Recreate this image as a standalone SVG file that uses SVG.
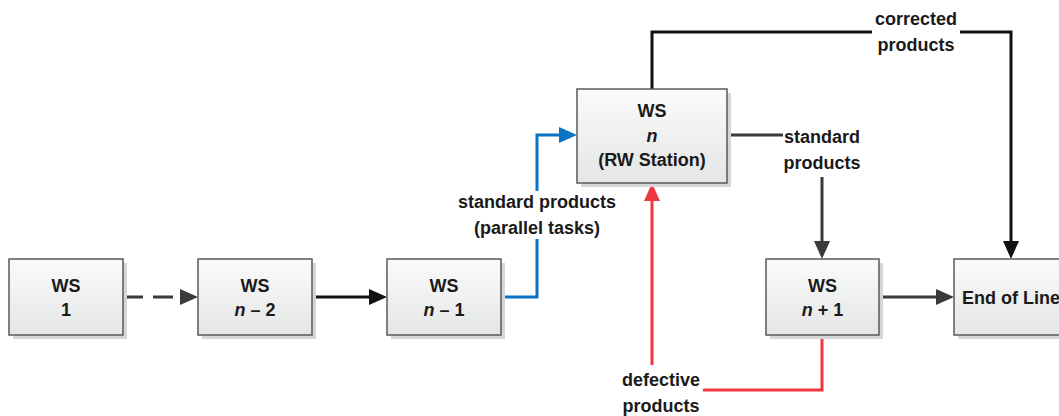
<svg xmlns="http://www.w3.org/2000/svg" width="1059" height="416" viewBox="0 0 1059 416">
  <style>
    .box { stroke: #595959; stroke-width: 1.5; fill: url(#boxFill); }
    .shadow { fill: #d6d6d6; }
    .t { font-family: "Liberation Sans", Arial, sans-serif; font-weight: bold; font-size: 18px; fill: #1a1a1a; text-anchor: middle; }
    .i { font-style: italic; }
    .line { fill: none; stroke-width: 3; }
    .dark { stroke: #3a3a3a; }
    .black { stroke: #111111; }
    .blue { stroke: #0b74c4; }
    .red { stroke: #f0363f; }
    .bg { fill: #ffffff; }
  </style>
  <defs>
    <linearGradient id="boxFill" x1="0" y1="0" x2="0" y2="1">
      <stop offset="0" stop-color="#fbfbfb"/>
      <stop offset="1" stop-color="#e4e5e5"/>
    </linearGradient>
    <marker id="arrDark" viewBox="0 0 18 16" refX="2" refY="8" markerWidth="18" markerHeight="16" markerUnits="userSpaceOnUse" orient="auto">
      <path d="M0,0 L18,8 L0,16 z" fill="#3a3a3a"/>
    </marker>
    <marker id="arrBlack" viewBox="0 0 18 16" refX="2" refY="8" markerWidth="18" markerHeight="16" markerUnits="userSpaceOnUse" orient="auto">
      <path d="M0,0 L18,8 L0,16 z" fill="#111111"/>
    </marker>
    <marker id="arrBlue" viewBox="0 0 18 16" refX="2" refY="8" markerWidth="18" markerHeight="16" markerUnits="userSpaceOnUse" orient="auto">
      <path d="M0,0 L18,8 L0,16 z" fill="#0b74c4"/>
    </marker>
    <marker id="arrRed" viewBox="0 0 18 16" refX="2" refY="8" markerWidth="18" markerHeight="16" markerUnits="userSpaceOnUse" orient="auto">
      <path d="M0,0 L18,8 L0,16 z" fill="#f0363f"/>
    </marker>
  </defs>
  <rect width="1059" height="416" fill="#ffffff"/>

  <!-- connectors -->
  <g id="connectors">
    <path class="line dark" d="M123,297 H182" stroke-dasharray="20 10" marker-end="url(#arrDark)"/>
    <path class="line black" d="M312,297 H371" marker-end="url(#arrBlack)"/>
    <path class="line blue" d="M501,297 H537 V135 H561" marker-end="url(#arrBlue)"/>
    <path class="line black" d="M652,89 V32 H1011 V243" marker-end="url(#arrBlack)"/>
    <path class="line dark" d="M727,135 H783"/>
    <path class="line dark" d="M822,177 V243" marker-end="url(#arrDark)"/>
    <path class="line dark" d="M879,297 H938" marker-end="url(#arrDark)"/>
    <path class="line red" d="M822,335 V390 H703"/>
    <path class="line red" d="M652,365 V199" marker-end="url(#arrRed)"/>

    <!-- connector labels -->
    <rect class="bg" x="454" y="191" width="166" height="48"/>
    <text class="t" x="537" y="208">standard products</text>
    <text class="t" x="537" y="234">(parallel tasks)</text>

    <rect class="bg" x="872" y="8" width="88" height="48"/>
    <text class="t" x="916" y="25">corrected</text>
    <text class="t" x="916" y="51">products</text>

    <text class="t" x="822" y="143">standard</text>
    <text class="t" x="822" y="169">products</text>

    <text class="t" x="661" y="386">defective</text>
    <text class="t" x="661" y="412">products</text>
  </g>

  <!-- stations -->
  <g id="ws1">
    <rect class="shadow" x="13" y="263" width="114" height="76"/>
    <rect class="box" x="9" y="259" width="114" height="76"/>
    <text class="t" x="66" y="292">WS</text>
    <text class="t" x="66" y="316">1</text>
  </g>
  <g id="ws-n-minus-2">
    <rect class="shadow" x="202" y="263" width="114" height="76"/>
    <rect class="box" x="198" y="259" width="114" height="76"/>
    <text class="t" x="255" y="292">WS</text>
    <text class="t" x="255" y="316"><tspan class="i">n</tspan> – 2</text>
  </g>
  <g id="ws-n-minus-1">
    <rect class="shadow" x="391" y="263" width="114" height="76"/>
    <rect class="box" x="387" y="259" width="114" height="76"/>
    <text class="t" x="444" y="292">WS</text>
    <text class="t" x="444" y="316"><tspan class="i">n</tspan> – 1</text>
  </g>
  <g id="ws-n">
    <rect class="shadow" x="581" y="93" width="150" height="94"/>
    <rect class="box" x="577" y="89" width="150" height="94"/>
    <text class="t" x="652" y="117">WS</text>
    <text class="t i" x="652" y="142">n</text>
    <text class="t" x="652" y="166">(RW Station)</text>
  </g>
  <g id="ws-n-plus-1">
    <rect class="shadow" x="770" y="263" width="113" height="76"/>
    <rect class="box" x="766" y="259" width="113" height="76"/>
    <text class="t" x="822.5" y="292">WS</text>
    <text class="t" x="822.5" y="316"><tspan class="i">n</tspan> + 1</text>
  </g>
  <g id="end-of-line">
    <rect class="shadow" x="958" y="263" width="114" height="76"/>
    <rect class="box" x="954" y="259" width="114" height="76"/>
    <text class="t" x="1011" y="304">End of Line</text>
  </g>
</svg>
